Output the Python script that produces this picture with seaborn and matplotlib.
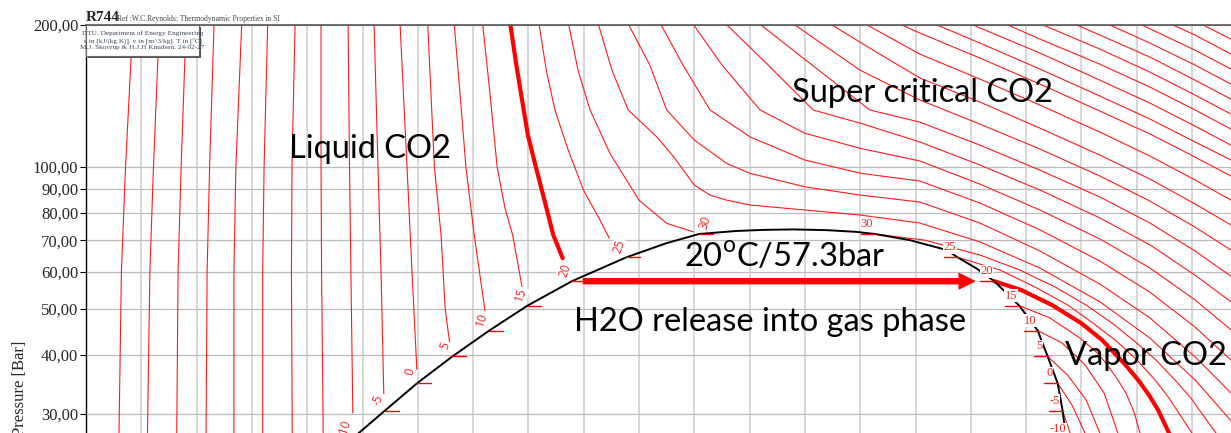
import pandas as pd
import matplotlib
matplotlib.use('Agg')
import matplotlib.pyplot as plt
import seaborn as sns
from matplotlib.patches import Rectangle
from matplotlib.ticker import FixedLocator, FuncFormatter, NullLocator

sns.set_style('white')
plt.rcParams['font.family'] = ['Liberation Serif', 'DejaVu Serif']
plt.rcParams['mathtext.fontset'] = 'custom'
plt.rcParams['mathtext.rm'] = 'Lato'

# saturation points (T in C, p in bar, h in kJ/kg)
SAT_T = [-10, -5, 0, 5, 10, 15, 20, 25, 30]
SAT_P = [26.49, 30.47, 34.85, 39.69, 45.02, 50.87, 57.29, 64.34, 72.14]
H_LIQ = [176.0, 188.1, 199.8, 212.5, 225.8, 239.7, 255.7, 275.3, 301.7]
H_VAP = [434.5, 433.2, 431.4, 427.8, 424.2, 417.5, 408.5, 395.3, 365.3]

# two phase dome
DOME_H = [176.0, 188.1, 199.8, 212.5, 225.8, 239.7, 255.7, 275.3, 290.0, 301.7, 315.0, 325.0,
          336.0, 348.0, 358.5, 365.3, 378.0, 391.3, 395.3, 402.0, 408.5, 417.5, 424.2, 427.8,
          431.4, 433.2, 434.5]
DOME_P = [26.49, 30.47, 34.85, 39.69, 45.02, 50.87, 57.29, 64.34, 69.0, 72.14, 73.2, 73.6,
          73.77, 73.5, 72.9, 72.14, 70.0, 66.7, 64.34, 61.0, 57.29, 50.87, 45.02, 39.69,
          34.85, 30.47, 26.49]

# isotherms, liquid side (h, p)
LIQ_ISO = {
    -50: [(96.9, 200), (94.3, 100), (92.8, 60), (91.9, 26.5)],
    -45: [(106.5, 200), (104.4, 100), (103.1, 60), (102.2, 26.5)],
    -40: [(116.2, 200), (114.4, 100), (113.3, 60), (112.8, 26.5)],
    -35: [(126.3, 200), (124.7, 100), (123.8, 60), (123.4, 26.5)],
    -30: [(136.3, 200), (134.2, 100), (133.5, 60), (133.5, 26.5)],
    -25: [(145.7, 200), (144.4, 100), (143.9, 60), (143.9, 26.5)],
    -20: [(155.6, 200), (154.5, 100), (154.3, 60), (154.6, 26.5)],
    -15: [(165.0, 200), (165.0, 100), (165.2, 60), (165.8, 26.5)],
    -10: [(174.8, 200), (175.3, 100), (175.8, 60), (176.5, 30.1)],
    -5: [(184.2, 200), (185.6, 100), (186.7, 60), (187.7, 33.1)],
    0: [(193.6, 200), (196.1, 100), (197.9, 60), (199.7, 36.8)],
    5: [(203.6, 200), (206.0, 100), (208.4, 71.8), (209.9, 50.0), (211.7, 41.7)],
    10: [(213.2, 200), (215.4, 140), (217.4, 100), (220.4, 71.8), (224.3, 49.6)],
    15: [(223.5, 200), (226.0, 145), (228.7, 100), (231.5, 82), (234.3, 71.8), (237.7, 55.7)],
    20: [(233.5, 200), (235.6, 165), (237.6, 140), (239.8, 117), (242.7, 100), (245.8, 85.1),
         (249.0, 71.8), (252.4, 64.1)],
    25: [(243.9, 200), (246.5, 160), (249.6, 132.1), (254.4, 108.6), (259.9, 89.4), (265.9, 77.2),
         (269.3, 70.6)],
    30: [(254.6, 200), (258.0, 160), (262.3, 132.1), (269.5, 106.9), (280.0, 85.1), (290.0, 76.0),
         (299.6, 72.9)],
}

# isotherms, vapour and supercritical side (h, p)
GAS_ISO = {
    -5: [(433.2, 30.47), (435.9, 27.3), (436.2, 26.4)],
    0: [(431.4, 34.85), (436.6, 31.3), (441.3, 27.3), (442.4, 26.4)],
    5: [(427.8, 39.69), (435.1, 36.2), (441.7, 32.1), (446.7, 27.3), (447.8, 26.3)],
    10: [(424.2, 45.02), (433.0, 42.4), (441.3, 38.1), (448.2, 33.2), (453.2, 27.3), (454.3, 26.3)],
    15: [(417.5, 50.87), (428.6, 47.9), (439.5, 43.4), (445.3, 40.6), (448.9, 38.4), (453.2, 35.4),
         (456.1, 33.2), (459.0, 30.3), (461.2, 27.3), (461.9, 26.3)],
    20: [(408.5, 57.29), (418.2, 54.9), (429.4, 51.0), (439.9, 46.7), (447.5, 43.0), (455.4, 38.4),
         (460.5, 35.4), (464.4, 32.9), (467.7, 30.6), (470.2, 28.5), (471.7, 27.3), (472.8, 26.3)],
    25: [(395.3, 64.34), (410.6, 60.5), (423.2, 55.7), (435.1, 51.0), (444.2, 46.7), (452.2, 43.0),
         (460.1, 39.0), (466.6, 35.4), (471.7, 32.4), (475.7, 29.8), (480.0, 27.3), (481.1, 26.3)],
    30: [(365.3, 72.14), (383.4, 70.0), (403.3, 65.1), (417.8, 60.5), (430.5, 55.7), (441.7, 51.0),
         (451.1, 46.7), (458.7, 43.0), (467.0, 39.0), (473.8, 35.4), (479.6, 32.4), (484.0, 29.8),
         (488.7, 27.3), (490.1, 26.3)],
    35: [(265.4, 200), (270.2, 160.5), (276.1, 132.1), (286.4, 115.9), (292.5, 105.2), (300.0, 91.6),
         (305.7, 87.2), (311.7, 85.1), (320.1, 83.1), (340.0, 81.1), (360.2, 79.1), (381.6, 76.1),
         (403.3, 69.4), (425.0, 61.1), (446.7, 51.8), (464.8, 43.4), (481.1, 35.4), (494.1, 29.0)],
    40: [(276.3, 200), (283.9, 164.5), (290.0, 132.1), (300.0, 114.1), (311.7, 101.8), (320.1, 97.0),
         (340.0, 90.8), (360.2, 87.2), (381.6, 84.3), (403.3, 76.1), (425.0, 66.4), (446.7, 56.5),
         (464.8, 47.9), (481.1, 39.6), (494.1, 33.2)],
    45: [(288.0, 200), (295.9, 164.5), (305.7, 132.1), (320.1, 115.9), (340.0, 103.5), (360.2, 97.0),
         (381.6, 93.4), (403.3, 83.9), (425.0, 73.6), (446.7, 63.2), (464.8, 54.3), (481.1, 45.8),
         (494.1, 39.0)],
    50: [(299.8, 200), (310.0, 164.5), (323.8, 132.1), (340.0, 117.9), (360.2, 109.5), (381.6, 103.0),
         (403.3, 92.0), (425.0, 81.1), (446.7, 70.4), (464.8, 61.1), (481.1, 52.3), (494.1, 45.2)],
    55: [(311.8, 200), (325.6, 166.9), (343.0, 132.1), (360.2, 123.8), (381.6, 113.0), (403.3, 101.0),
         (425.0, 89.4), (446.7, 78.0), (464.8, 68.4), (481.1, 59.0), (494.1, 51.8)],
    60: [(324.1, 200), (342.6, 164.5), (363.5, 132.1), (381.6, 124.5), (403.3, 111.3), (425.0, 98.5),
         (446.7, 86.4), (464.8, 76.1), (481.1, 66.4), (494.1, 58.7)],
    65: [(336.4, 200), (359.9, 160.5), (381.6, 138.7), (403.3, 123.3), (425.0, 109.2), (446.7, 95.7),
         (464.8, 84.7), (481.1, 74.6), (494.1, 66.7)],
    70: [(349.8, 200), (366.0, 175.0), (381.6, 154.4), (403.3, 137.3), (425.0, 120.9), (446.7, 106.0),
         (464.8, 94.3), (481.1, 83.5), (494.1, 75.4)],
    75: [(362.5, 200), (381.6, 173.5), (403.3, 153.6), (425.0, 135.3), (446.7, 118.6), (464.8, 105.5),
         (481.1, 93.9), (494.1, 85.1)],
    80: [(375.1, 200), (381.6, 192.3), (403.3, 170.2), (425.0, 149.9), (446.7, 131.4), (464.8, 117.5),
         (481.1, 105.0), (494.1, 95.7)],
    85: [(387.8, 200), (403.3, 183.1), (425.0, 161.3), (446.7, 141.4), (464.8, 126.4), (481.1, 113.0),
         (494.1, 103.5)],
    90: [(400.8, 200), (425.0, 174.4), (446.7, 152.8), (464.8, 136.6), (481.1, 122.1), (494.1, 111.3)],
    95: [(413.4, 200), (425.0, 186.7), (446.7, 165.2), (464.8, 147.7), (481.1, 132.1), (494.1, 120.4)],
    100: [(426.1, 200), (446.7, 177.8), (464.8, 158.9), (481.1, 142.1), (494.1, 129.5)],
    105: [(438.4, 200), (446.7, 190.4), (464.8, 171.0), (481.1, 152.8), (494.1, 139.3)],
    110: [(450.3, 200), (464.8, 183.1), (481.1, 164.5), (494.1, 149.9)],
    115: [(461.9, 200), (481.1, 176.9), (494.1, 161.3)],
    120: [(473.1, 200), (481.1, 190.4), (494.1, 173.5)],
    125: [(484.0, 200), (494.1, 186.7)],
}

P_TICKS = [30, 40, 50, 60, 70, 80, 90, 100, 200]
H_GRID = list(range(80, 500, 20))
H_MIN, H_MAX = 80, 494.1
P_MIN, P_MAX = 27.32, 200

ARROW_H = [259.9, 401.3]
ARROW_P = 57.3
HIGHLIGHT_T = 20

# long table for seaborn
rows = []
for branch, iso in (('liq', LIQ_ISO), ('gas', GAS_ISO)):
    for T, pts in iso.items():
        for i, (h, p) in enumerate(pts):
            rows.append({'T': T, 'seg': f'{branch}{T}', 'i': i, 'h': h, 'p': p})
df = pd.DataFrame(rows)

fig = plt.figure(figsize=(12.31, 4.33), dpi=100)
ax = fig.add_axes([86 / 1231, 0, 1145 / 1231, 408 / 433])
ax.set_yscale('log')
ax.set_xlim(H_MIN, H_MAX)
ax.set_ylim(P_MIN, P_MAX)

# grid
ax.set_xticks(H_GRID)
ax.yaxis.set_major_locator(FixedLocator(P_TICKS))
ax.yaxis.set_minor_locator(NullLocator())
ax.yaxis.set_major_formatter(FuncFormatter(lambda v, pos: f'{v:.2f}'.replace('.', ',')))
ax.grid(True, axis='x', color='#d4d4d4', lw=1.3)
ax.grid(True, axis='y', color='#bcbcbc', lw=0.9)
ax.set_axisbelow(True)
ax.tick_params(axis='x', length=0, labelbottom=False)
ax.tick_params(axis='y', left=True, length=4, width=0.8, color='black', pad=1.5,
               labelsize=12)
ax.spines['right'].set_visible(False)
ax.spines['bottom'].set_visible(False)
ax.spines['left'].set_color('black')
ax.spines['left'].set_linewidth(1.0)
ax.spines['top'].set_color('#555555')
ax.spines['top'].set_linewidth(1.2)

# isotherms
thin = df[df['T'] != HIGHLIGHT_T]
thick = df[df['T'] == HIGHLIGHT_T]
sns.lineplot(data=thin, x='h', y='p', units='seg', estimator=None, sort=False,
             color='#ff1a1a', lw=0.8, ax=ax, legend=False)
sns.lineplot(data=thick, x='h', y='p', units='seg', estimator=None, sort=False,
             color='#ff0000', lw=3, ax=ax, legend=False)

# dome
dome = pd.DataFrame({'h': DOME_H, 'p': DOME_P})
sns.lineplot(data=dome, x='h', y='p', sort=False, estimator=None, color='black', lw=1.4,
             ax=ax, legend=False)
ax.set_xlabel('')
ax.set_ylabel('')

# saturation ticks and labels
for T, p, hl, hv in zip(SAT_T, SAT_P, H_LIQ, H_VAP):
    ax.plot([hl, hl + 5], [p, p], color='#ff0000', lw=1.0, zorder=4)
    ax.plot([hv - 5, hv], [p, p], color='#ff0000', lw=1.0, zorder=4)
    dx = 6 if T == 30 else -7
    ax.annotate(str(T), (hl, p), xytext=(dx, 11), textcoords='offset pixels',
                rotation=72, ha='center', va='center', fontsize=8.5, family='Open Sans',
                color='#ff2020', annotation_clip=False, zorder=7,
                bbox=dict(fc='white', ec='none', pad=0.6))
    ax.annotate(str(T), (hv, p), xytext=(-8, 10), textcoords='offset pixels',
                ha='center', va='center', fontsize=9, family='Liberation Serif',
                color='#ff2020', annotation_clip=False, zorder=7,
                bbox=dict(fc='white', ec='none', pad=0.4))

# arrow
ax.annotate('', xy=(ARROW_H[1], ARROW_P), xytext=(ARROW_H[0], ARROW_P),
            arrowprops=dict(color='#ff0000', width=3.6, headwidth=11, headlength=11, shrink=0),
            zorder=6)

# region texts
txt = dict(fontsize=23.5, family='Lato', color='black', ha='left', va='baseline', zorder=8)
ax.text(153.5, 104.3, 'Liquid CO2', **txt)
ax.text(335.2, 137.5, 'Super critical CO2', **txt)
ax.text(296.4, 61.5, '20$^{\\mathrm{o}}$C/57.3bar', **txt)
ax.text(256.6, 45.0, 'H2O release into gas phase', **txt)
ax.text(434.1, 38.1, 'Vapor CO2', **txt)

# title and info box
fig.text(86 / 1231, 1 - 21 / 433, 'R744', fontsize=11, fontweight='bold',
         family='Liberation Serif', va='baseline')
fig.text(117 / 1231, 1 - 21 / 433, 'Ref :W.C.Reynolds: Thermodynamic Properties in SI',
         fontsize=5.5, family='Liberation Serif', color='#444444', va='baseline')
fig.add_artist(Rectangle((88 / 1231, 1 - 58 / 433), 113 / 1231, 31 / 433,
                         transform=fig.transFigure, fc='#555555', ec='none', zorder=5))
fig.add_artist(Rectangle((86 / 1231, 1 - 56 / 433), 113 / 1231, 31 / 433,
                         transform=fig.transFigure, fc='white', ec='#666666', lw=0.8, zorder=6))
fig.text(142.5 / 1231, 1 - 40.5 / 433,
         'DTU, Department of Energy Engineering\n'
         's in [kJ/(kg K)]. v in [m^3/kg]. T in [ºC]\n'
         'M.J. Skovrup & H.J.H Knudsen. 24-02-27',
         fontsize=5.2, family='Liberation Serif', color='#3a4660', ha='center', va='center',
         linespacing=1.25, zorder=7)

fig.text(20 / 1231, 1 - 388 / 433, 'Pressure [Bar]', rotation=90, fontsize=12,
         family='Liberation Serif', ha='center', va='center')

fig.savefig('out.png', dpi=100, facecolor='white')
